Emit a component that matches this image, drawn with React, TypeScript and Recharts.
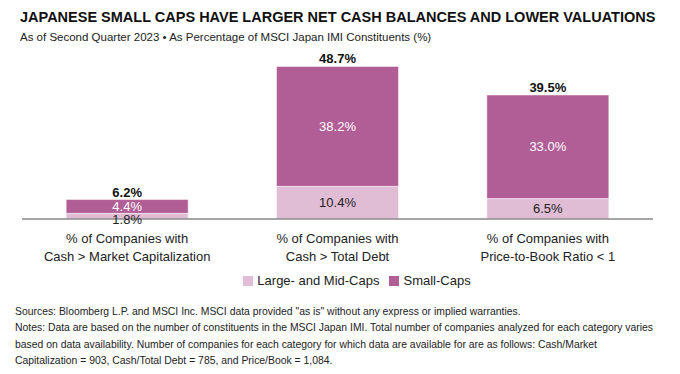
import React from 'react';
import { BarChart, Bar, XAxis, YAxis, LabelList, Legend } from 'recharts';

const categories = [
  ['% of Companies with', 'Cash > Market Capitalization'],
  ['% of Companies with', 'Cash > Total Debt'],
  ['% of Companies with', 'Price-to-Book Ratio < 1'],
];
const largeMidCaps = [1.8, 10.4, 6.5];
const smallCaps = [4.4, 38.2, 33.0];
const totals = [6.2, 48.7, 39.5];

const LARGE_COLOR = '#E1BCD5';
const SMALL_COLOR = '#B15E96';
const FONT = "'Liberation Sans', Arial, sans-serif";

const data = categories.map((c, i) => ({
  name: c.join('\n'),
  large: largeMidCaps[i],
  small: smallCaps[i],
  total: totals[i],
}));

const CategoryTick = (props: any) => {
  const { x, y, payload } = props;
  const lines = String(payload.value).split('\n');
  return (
    <g transform={`translate(${x},${y})`}>
      {lines.map((l, i) => (
        <text key={i} x={0} y={16 + i * 18} textAnchor="middle" fontSize={13} fill="#222" fontFamily={FONT}>
          {l}
        </text>
      ))}
    </g>
  );
};

// centred value; very thin segments push their label a little lower, as in the original
const SegmentLabel = (props: any) => {
  const { x, y, width, height, value, textColor } = props;
  const dy = height < 10 ? 3 : 0;
  return (
    <text x={x + width / 2} y={y + height / 2 + dy} dy="0.35em" textAnchor="middle" fontSize={13} fill={textColor} fontFamily={FONT}>
      {Number(value).toFixed(1)}%
    </text>
  );
};

const TotalLabel = (props: any) => {
  const { x, y, width, index } = props;
  return (
    <text x={x + width / 2} y={y - 3} textAnchor="middle" fontSize={13} fontWeight={600} fill="#111" fontFamily={FONT}>
      {totals[index].toFixed(1)}%
    </text>
  );
};

const LegendContent = () => (
  <div style={{ display: 'flex', justifyContent: 'center', alignItems: 'center', fontFamily: FONT, fontSize: 13, color: '#222' }}>
    <span style={{ display: 'inline-block', width: 10, height: 10, background: LARGE_COLOR, marginRight: 4 }} />
    <span style={{ marginRight: 10 }}>Large- and Mid-Caps</span>
    <span style={{ display: 'inline-block', width: 10, height: 10, background: SMALL_COLOR, marginRight: 4 }} />
    <span>Small-Caps</span>
  </div>
);

export default function App() {
  return (
    <div style={{ position: 'absolute', left: 0, top: 0, width: 680, height: 374, background: '#fff', fontFamily: FONT }}>
      <div style={{ position: 'absolute', left: 20, top: 9, fontSize: 14.5, fontWeight: 700, color: '#111', whiteSpace: 'nowrap' }}>
        JAPANESE SMALL CAPS HAVE LARGER NET CASH BALANCES AND LOWER VALUATIONS
      </div>
      <div style={{ position: 'absolute', left: 20, top: 31, fontSize: 11.5, color: '#222', whiteSpace: 'nowrap' }}>
        As of Second Quarter 2023 • As Percentage of MSCI Japan IMI Constituents (%)
      </div>
      <div style={{ position: 'absolute', left: 0, top: 0 }}>
        <BarChart width={680} height={300} data={data} margin={{ top: 62, right: 27, left: 22, bottom: 30 }} barCategoryGap="21%">
          <XAxis
            dataKey="name"
            axisLine={{ stroke: '#888', strokeWidth: 1.5 }}
            tickLine={false}
            tick={<CategoryTick />}
            height={51}
            interval={0}
          />
          <YAxis hide domain={[0, 50]} />
          <Legend
            layout="horizontal"
            verticalAlign="middle"
            align="center"
            content={<LegendContent />}
            wrapperStyle={{ position: 'absolute', top: 273, left: 17, width: 680 }}
          />
          <Bar dataKey="large" stackId="a" fill={LARGE_COLOR} stroke="#fff" strokeWidth={0.5} isAnimationActive={false}>
            <LabelList dataKey="large" content={<SegmentLabel textColor="#222" />} />
          </Bar>
          <Bar dataKey="small" stackId="a" fill={SMALL_COLOR} stroke="#fff" strokeWidth={0.5} isAnimationActive={false}>
            <LabelList dataKey="small" content={<SegmentLabel textColor="#fff" />} />
            <LabelList dataKey="total" content={<TotalLabel />} />
          </Bar>
        </BarChart>
      </div>
      <div style={{ position: 'absolute', left: 15, top: 304, fontSize: 10.4, lineHeight: '16.3px', color: '#222', whiteSpace: 'nowrap' }}>
        <div>Sources: Bloomberg L.P. and MSCI Inc. MSCI data provided "as is" without any express or implied warranties.</div>
        <div>Notes: Data are based on the number of constituents in the MSCI Japan IMI. Total number of companies analyzed for each category varies</div>
        <div>based on data availability. Number of companies for each category for which data are available for are as follows: Cash/Market</div>
        <div>Capitalization = 903, Cash/Total Debt = 785, and Price/Book = 1,084.</div>
      </div>
    </div>
  );
}
